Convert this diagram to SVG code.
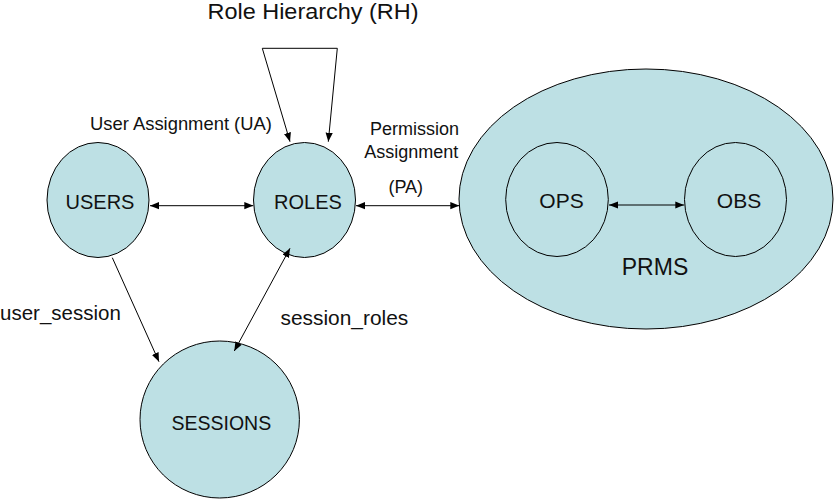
<svg xmlns="http://www.w3.org/2000/svg" width="835" height="500" viewBox="0 0 835 500">
<style>
.node{fill:#bde0e4;stroke:#000;stroke-width:1}
.inner{fill:none;stroke:#000;stroke-width:1}
text{font-family:"Liberation Sans",Arial,sans-serif;fill:#111}
.lbl{text-anchor:middle}
.edge{stroke:#000;stroke-width:1;fill:none}
</style>
<defs>
<marker id="ah" viewBox="0 0 10 10" refX="10" refY="5" markerWidth="9" markerHeight="9" markerUnits="userSpaceOnUse" orient="auto-start-reverse">
<path d="M0,1 L10,5 L0,9 z" fill="#000"/>
</marker>
</defs>
<rect width="835" height="500" fill="#fff"/>
<g id="prms">
<ellipse class="node" cx="646" cy="199" rx="187" ry="130"/>
<text class="lbl" x="655" y="275" font-size="23">PRMS</text>
</g>
<g id="ops">
<ellipse class="inner" cx="557" cy="199.5" rx="51.3" ry="57"/>
<text class="lbl" x="561.5" y="208" font-size="21">OPS</text>
</g>
<g id="obs">
<ellipse class="inner" cx="735.5" cy="199.5" rx="51" ry="57"/>
<text class="lbl" x="739" y="208" font-size="21">OBS</text>
</g>
<g id="users">
<ellipse class="node" cx="98" cy="200" rx="51" ry="57.5"/>
<text class="lbl" x="100" y="209" font-size="20">USERS</text>
</g>
<g id="roles">
<ellipse class="node" cx="304.5" cy="200" rx="51" ry="57.5"/>
<text class="lbl" x="308" y="209" font-size="20">ROLES</text>
</g>
<g id="sessions">
<ellipse class="node" cx="219.7" cy="419.5" rx="79.7" ry="78.5"/>
<text class="lbl" x="221.3" y="430" font-size="19.5">SESSIONS</text>
</g>
<g id="connectors">
<line class="edge" x1="150" y1="205.7" x2="253.3" y2="205.7" marker-start="url(#ah)" marker-end="url(#ah)"/>
<line class="edge" x1="356" y1="205.7" x2="459.3" y2="205.7" marker-start="url(#ah)" marker-end="url(#ah)"/>
<line class="edge" x1="609" y1="205" x2="684.3" y2="205" marker-start="url(#ah)" marker-end="url(#ah)"/>
<line class="edge" x1="112.3" y1="257.7" x2="159" y2="361.7" marker-end="url(#ah)"/>
<line class="edge" x1="290" y1="248.3" x2="234.3" y2="351" marker-start="url(#ah)" marker-end="url(#ah)"/>
<path class="edge" d="M290,141.7 L262.3,48.3 L337.3,48.3 L328.3,141.7" marker-start="url(#ah)" marker-end="url(#ah)"/>
</g>
<g id="labels">
<text class="lbl" x="313" y="19" font-size="22" textLength="211" lengthAdjust="spacingAndGlyphs">Role Hierarchy (RH)</text>
<text x="90" y="130" font-size="18.4">User Assignment (UA)</text>
<text class="lbl" x="414.5" y="135" font-size="18">Permission</text>
<text class="lbl" x="411.3" y="158.3" font-size="18">Assignment</text>
<text class="lbl" x="405.8" y="192.7" font-size="18">(PA)</text>
<text x="0" y="320" font-size="20.5">user_session</text>
<text x="280.5" y="325" font-size="20.9">session_roles</text>
</g>
</svg>
